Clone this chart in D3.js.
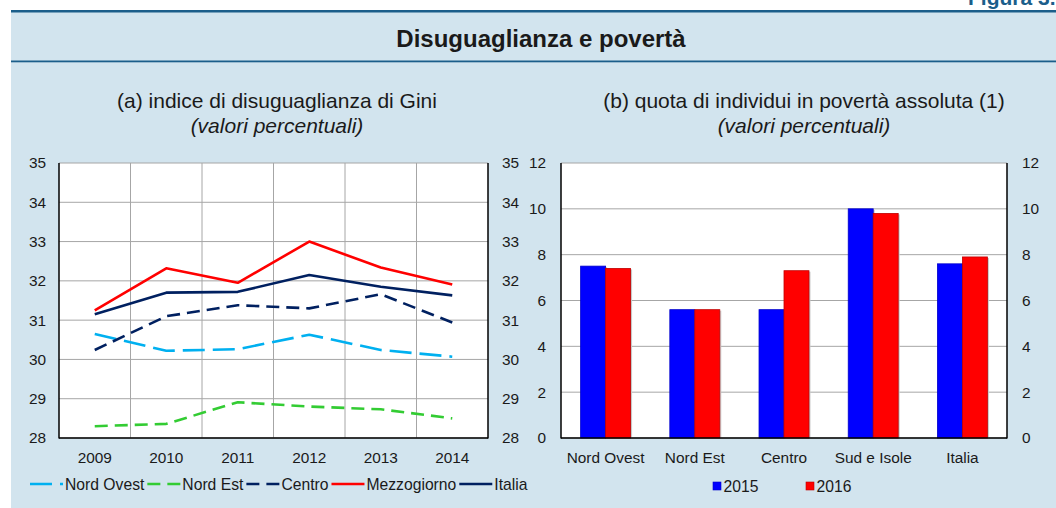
<!DOCTYPE html>
<html>
<head>
<meta charset="utf-8">
<script src="https://cdn.jsdelivr.net/npm/d3@7"></script>
<style>
  html, body { margin: 0; padding: 0; background: #ffffff; }
  svg { display: block; font-family: "Liberation Sans", Arial, sans-serif; }
</style>
</head>
<body>
<svg id="chart" width="1056" height="508"></svg>
<script>
// ---------- DATA ----------
const years = ["2009", "2010", "2011", "2012", "2013", "2014"];
const giniNordOvest   = [30.65, 30.22, 30.26, 30.63, 30.24, 30.07];
const giniNordEst     = [28.30, 28.36, 28.91, 28.80, 28.73, 28.50];
const giniCentro      = [30.24, 31.10, 31.38, 31.30, 31.66, 30.94];
const giniMezzogiorno = [31.25, 32.32, 31.95, 33.00, 32.34, 31.91];
const giniItalia      = [31.15, 31.70, 31.72, 32.15, 31.85, 31.63];
const giniTicks = [28, 29, 30, 31, 32, 33, 34, 35];

const areas = ["Nord Ovest", "Nord Est", "Centro", "Sud e Isole", "Italia"];
const pov2015 = [7.5, 5.6, 5.6, 10.0, 7.6];
const pov2016 = [7.4, 5.6, 7.3, 9.8, 7.9];
const povTicks = [0, 2, 4, 6, 8, 10, 12];

(function () {
const lineSeries = [
  { name: "Nord Ovest",  values: giniNordOvest,   color: "#00b0f0", dash: "22,8" },
  { name: "Nord Est",    values: giniNordEst,     color: "#33cc33", dash: "13,7" },
  { name: "Centro",      values: giniCentro,      color: "#002060", dash: "13,7" },
  { name: "Mezzogiorno", values: giniMezzogiorno, color: "#ff0000", dash: null },
  { name: "Italia",      values: giniItalia,      color: "#002060", dash: null }
];
const barSeries = [
  { name: "2015", values: pov2015, color: "#0000ff", stroke: "#0000cc" },
  { name: "2016", values: pov2016, color: "#ff0000", stroke: "#c00000" }
];

// ---------- LAYOUT ----------
const svg = d3.select("#chart");
const W = 1056, H = 508;
const panelBg = "#d2e4ee", rule = "#1b5e8a", grid = "#a6a6a6";
const fontTick = 15.4, fontLeg = 15.7;

svg.append("rect").attr("x", 11).attr("y", 10).attr("width", W - 11).attr("height", H - 10).attr("fill", panelBg);
svg.append("rect").attr("x", 11).attr("y", 10).attr("width", W - 11).attr("height", 2.5).attr("fill", rule);
svg.append("rect").attr("x", 11).attr("y", 60.5).attr("width", W - 11).attr("height", 1.8).attr("fill", rule);

svg.append("text").attr("x", 968).attr("y", 5).attr("font-size", 21).attr("font-weight", "bold")
  .attr("fill", rule).text("Figura 3.");

svg.append("text").attr("x", 541).attr("y", 47).attr("text-anchor", "middle")
  .attr("font-size", 24).attr("font-weight", "bold").attr("fill", "#1a1a1a")
  .text("Disuguaglianza e povertà");

function subtitle(cx, l1, l2) {
  svg.append("text").attr("x", cx).attr("y", 108).attr("text-anchor", "middle")
    .attr("font-size", 21).attr("fill", "#1a1a1a").text(l1);
  svg.append("text").attr("x", cx).attr("y", 133).attr("text-anchor", "middle")
    .attr("font-size", 21).attr("font-style", "italic").attr("fill", "#1a1a1a").text(l2);
}
subtitle(277, "(a) indice di disuguaglianza di Gini", "(valori percentuali)");
subtitle(804, "(b) quota di individui in povertà assoluta (1)", "(valori percentuali)");

const plotTop = 163, plotBottom = 438;

// ---------- LEFT CHART ----------
const L = { x0: 59, x1: 488 };
const xL = d3.scaleBand().domain(years).range([L.x0, L.x1]);
const yL = d3.scaleLinear().domain([28, 35]).range([plotBottom, plotTop]);

svg.append("rect").attr("x", L.x0).attr("y", plotTop).attr("width", L.x1 - L.x0).attr("height", plotBottom - plotTop).attr("fill", "#fff");

const gL = svg.append("g");
gL.selectAll("line.h").data(giniTicks).join("line")
  .attr("x1", L.x0).attr("x2", L.x1).attr("y1", d => yL(d)).attr("y2", d => yL(d))
  .attr("stroke", grid).attr("stroke-width", 1);
gL.selectAll("line.v").data(years.slice(1)).join("line")
  .attr("x1", d => xL(d)).attr("x2", d => xL(d)).attr("y1", plotTop).attr("y2", plotBottom)
  .attr("stroke", grid).attr("stroke-width", 1);

const lineGen = d3.line().x((d, i) => xL(years[i]) + xL.bandwidth() / 2).y(d => yL(d));
lineSeries.forEach(s => {
  svg.append("path").attr("d", lineGen(s.values)).attr("fill", "none")
    .attr("stroke", s.color).attr("stroke-width", 2.6)
    .attr("stroke-dasharray", s.dash).attr("stroke-linejoin", "round");
});

function styleAxis(g) {
  g.select(".domain").remove();
  g.selectAll(".tick line").remove();
  g.selectAll("text").attr("font-size", fontTick).attr("fill", "#1a1a1a")
    .attr("font-family", "Liberation Sans, Arial, sans-serif");
}

svg.append("g").attr("transform", `translate(${L.x0},0)`)
  .call(d3.axisLeft(yL).tickValues(giniTicks).tickSize(0).tickPadding(13).tickFormat(d3.format("d")))
  .call(styleAxis);
svg.append("g").attr("transform", `translate(${L.x1},0)`)
  .call(d3.axisRight(yL).tickValues(giniTicks).tickSize(0).tickPadding(14).tickFormat(d3.format("d")))
  .call(styleAxis);
svg.append("g").attr("transform", `translate(0,${plotBottom})`)
  .call(d3.axisBottom(xL).tickSize(0).tickPadding(14))
  .call(styleAxis);

function frame(x0, x1) {
  svg.append("line").attr("x1", x0).attr("x2", x0).attr("y1", plotTop).attr("y2", plotBottom + 0.5).attr("stroke", "#000").attr("stroke-width", 1.5);
  svg.append("line").attr("x1", x1).attr("x2", x1).attr("y1", plotTop).attr("y2", plotBottom + 0.5).attr("stroke", "#000").attr("stroke-width", 1.5);
  svg.append("line").attr("x1", x0).attr("x2", x1).attr("y1", plotBottom).attr("y2", plotBottom).attr("stroke", "#000").attr("stroke-width", 1.5);
}
frame(L.x0, L.x1);

let cx = 30;
const legY = 484;
lineSeries.forEach(s => {
  svg.append("line").attr("x1", cx).attr("x2", cx + 33).attr("y1", legY).attr("y2", legY)
    .attr("stroke", s.color).attr("stroke-width", 2.6).attr("stroke-dasharray", s.dash);
  const t = svg.append("text").attr("x", cx + 35).attr("y", legY + 5.5)
    .attr("font-size", fontLeg).attr("fill", "#1a1a1a").text(s.name);
  cx = cx + 35 + t.node().getComputedTextLength() + 3;
});

// ---------- RIGHT CHART ----------
const R = { x0: 561, x1: 1007 };
const xR = d3.scaleBand().domain(areas).range([R.x0, R.x1]);
const xSub = d3.scaleBand().domain(barSeries.map(s => s.name))
  .range([xR.bandwidth() * 0.22, xR.bandwidth() * 0.78]);
const yR = d3.scaleLinear().domain([0, 12]).range([plotBottom, plotTop]);

svg.append("rect").attr("x", R.x0).attr("y", plotTop).attr("width", R.x1 - R.x0).attr("height", plotBottom - plotTop).attr("fill", "#fff");
svg.append("g").selectAll("line").data(povTicks).join("line")
  .attr("x1", R.x0).attr("x2", R.x1).attr("y1", d => yR(d)).attr("y2", d => yR(d))
  .attr("stroke", grid).attr("stroke-width", 1);

barSeries.forEach(s => {
  const g = svg.append("g");
  g.selectAll("rect.sh").data(s.values).join("rect")
    .attr("x", (d, i) => xR(areas[i]) + xSub(s.name) + 1.5)
    .attr("y", d => yR(d) + 1)
    .attr("width", xSub.bandwidth())
    .attr("height", d => plotBottom - yR(d) - 1)
    .attr("fill", "#c8c8c8");
  g.selectAll("rect.b").data(s.values).join("rect")
    .attr("x", (d, i) => xR(areas[i]) + xSub(s.name))
    .attr("y", d => yR(d))
    .attr("width", xSub.bandwidth())
    .attr("height", d => plotBottom - yR(d))
    .attr("fill", s.color).attr("stroke", s.stroke).attr("stroke-width", 0.8);
});

svg.append("g").attr("transform", `translate(${R.x0},0)`)
  .call(d3.axisLeft(yR).tickValues(povTicks).tickSize(0).tickPadding(15).tickFormat(d3.format("d")))
  .call(styleAxis);
svg.append("g").attr("transform", `translate(${R.x1},0)`)
  .call(d3.axisRight(yR).tickValues(povTicks).tickSize(0).tickPadding(15).tickFormat(d3.format("d")))
  .call(styleAxis);
svg.append("g").attr("transform", `translate(0,${plotBottom})`)
  .call(d3.axisBottom(xR).tickSize(0).tickPadding(14))
  .call(styleAxis);

frame(R.x0, R.x1);

const legX = [713, 806];
barSeries.forEach((s, i) => {
  svg.append("rect").attr("x", legX[i]).attr("y", 482).attr("width", 8).attr("height", 8)
    .attr("fill", s.color).attr("stroke", s.stroke).attr("stroke-width", 0.6);
  svg.append("text").attr("x", legX[i] + 10.5).attr("y", 492)
    .attr("font-size", fontLeg).attr("fill", "#1a1a1a").text(s.name);
});
})();
</script>
</body>
</html>
